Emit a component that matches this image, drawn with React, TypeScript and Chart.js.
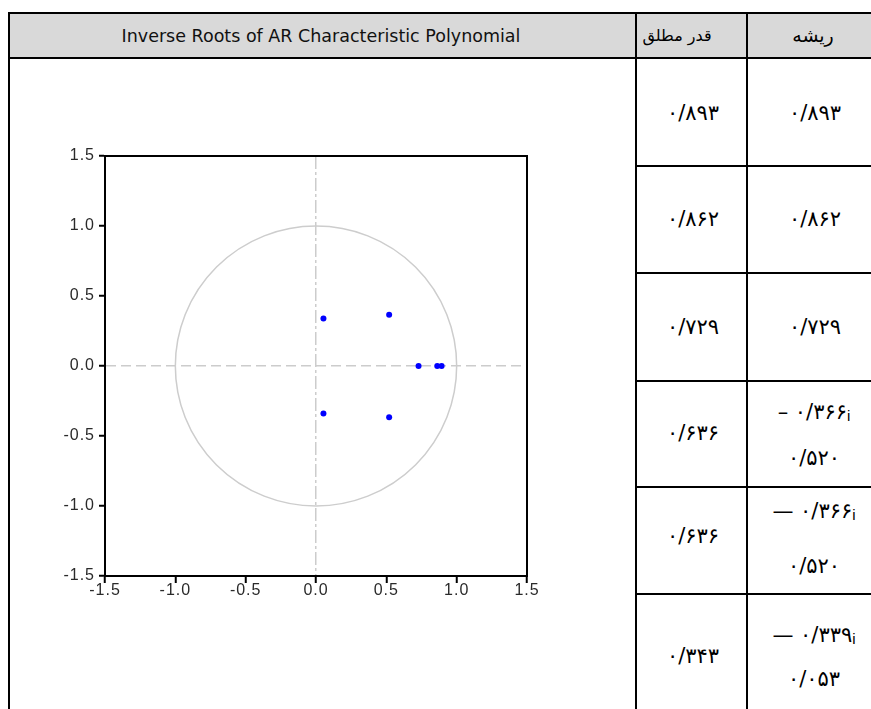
import React, { useEffect, useRef } from "react";
import { Chart, registerables } from "chart.js";

Chart.register(...registerables);

// ---- data ----
const rootReal = [0.893, 0.862, 0.729, 0.52, 0.52, 0.053, 0.053];
const rootImag = [0, 0, 0, 0.366, -0.366, 0.339, -0.339];
const axisTicks = [-1.5, -1.0, -0.5, 0.0, 0.5, 1.0, 1.5];

const headerChart = "Inverse Roots of AR Characteristic Polynomial";
const headerModulus = "قدر مطلق";
const headerRoot = "ریشه";
const modulusLabels = ["۰/۸۹۳", "۰/۸۶۲", "۰/۷۲۹", "۰/۶۳۶", "۰/۶۳۶", "۰/۳۴۳"];
const rootLabels: { sign: string; imag: string; real: string }[] = [
  { sign: "", imag: "", real: "۰/۸۹۳" },
  { sign: "", imag: "", real: "۰/۸۶۲" },
  { sign: "", imag: "", real: "۰/۷۲۹" },
  { sign: "–", imag: "۰/۳۶۶", real: "۰/۵۲۰" },
  { sign: "—", imag: "۰/۳۶۶", real: "۰/۵۲۰" },
  { sign: "—", imag: "۰/۳۳۹", real: "۰/۰۵۳" },
];

// ---- layout (page coordinates) ----
const fullLines = [12, 57];
const rowLines = [165, 272, 380, 486, 593];
const vLines = [8, 635, 746];
const rowCenters = [113, 219, 327, 433, 536, 656];
const twoLineTops = [412, 511, 635];
const twoLineBottoms = [458, 566, 679];

const ARFONT = '"DejaVu Sans", sans-serif';

function RootChart() {
  const ref = useRef<HTMLCanvasElement | null>(null);
  useEffect(() => {
    if (!ref.current) return;
    const setTicks = (s: any) => {
      s.ticks = axisTicks.map((v) => ({ value: v }));
    };
    const unitCircle = {
      id: "unitCircle",
      beforeDraw(chart: any) {
        chart.ctx.letterSpacing = "1px";
      },
      beforeDatasetsDraw(chart: any) {
        const { ctx, scales } = chart;
        const x = scales.x;
        const y = scales.y;
        const cx = x.getPixelForValue(0);
        const cy = y.getPixelForValue(0);
        const rx = x.getPixelForValue(1) - cx;
        const ry = cy - y.getPixelForValue(1);
        ctx.save();
        ctx.strokeStyle = "#cdcdcd";
        ctx.lineWidth = 1.5;
        ctx.beginPath();
        ctx.ellipse(cx, cy, rx, ry, 0, 0, Math.PI * 2);
        ctx.stroke();
        ctx.restore();
      },
      afterDraw(chart: any) {
        const { ctx, chartArea } = chart;
        ctx.save();
        ctx.strokeStyle = "#000";
        ctx.lineWidth = 2;
        ctx.beginPath();
        ctx.moveTo(chartArea.left - 1, chartArea.top);
        ctx.lineTo(chartArea.right, chartArea.top);
        ctx.lineTo(chartArea.right, chartArea.bottom + 1);
        ctx.stroke();
        ctx.restore();
      },
    };
    const tickFont = { family: '"Liberation Sans", Arial, sans-serif', size: 16, lineHeight: 0.9 };
    const zeroColor = (c: any) => (c.tick && c.tick.value === 0 ? "#cccccc" : "rgba(0,0,0,0)");
    const chart = new Chart(ref.current, {
      type: "scatter",
      data: {
        datasets: [
          {
            data: rootReal.map((r, i) => ({ x: r, y: rootImag[i] })),
            backgroundColor: "#0000ff",
            borderColor: "#0000ff",
            borderWidth: 0,
            pointRadius: 3,
            pointHoverRadius: 3,
          },
        ],
      },
      options: {
        responsive: false,
        animation: false,
        devicePixelRatio: 1,
        layout: { padding: { left: 0, top: 16, right: 23, bottom: 4 } },
        plugins: { legend: { display: false }, tooltip: { enabled: false } },
        scales: {
          x: {
            type: "linear",
            min: -1.5,
            max: 1.5,
            afterBuildTicks: setTicks,
            afterFit: (s: any) => {
              s.height = 30;
            },
            grid: {
              color: zeroColor,
              lineWidth: 1.5,
              drawTicks: true,
              tickLength: 7,
              tickColor: "#000",
              tickWidth: 2,
            },
            border: { display: true, color: "#000", width: 2, dash: [13, 3, 3, 3] },
            ticks: {
              color: "#2a2a2a",
              font: tickFont,
              padding: 0,
              maxRotation: 0,
              autoSkip: false,
              callback: (v: any) => Number(v).toFixed(1),
            },
          },
          y: {
            type: "linear",
            min: -1.5,
            max: 1.5,
            afterBuildTicks: setTicks,
            afterFit: (s: any) => {
              s.width = 55;
            },
            grid: {
              color: zeroColor,
              lineWidth: 1.5,
              drawTicks: true,
              tickLength: 6,
              tickColor: "#000",
              tickWidth: 2,
            },
            border: { display: true, color: "#000", width: 2, dash: [10, 5] },
            ticks: {
              color: "#2a2a2a",
              font: tickFont,
              padding: 4,
              autoSkip: false,
              callback: (v: any) => Number(v).toFixed(1),
            },
          },
        },
      },
      plugins: [unitCircle],
    } as any);
    return () => chart.destroy();
  }, []);
  return (
    <canvas
      ref={ref}
      width={500}
      height={470}
      style={{ position: "absolute", left: 50, top: 140, width: 500, height: 470 }}
    />
  );
}

const centerText = (x: number, y: number, content: React.ReactNode, style: React.CSSProperties = {}, key?: any) => (
  <div
    key={key}
    style={{
      position: "absolute",
      left: x,
      top: y,
      transform: "translate(-50%, -50%)",
      whiteSpace: "nowrap",
      ...style,
    }}
  >
    {content}
  </div>
);

export default function App() {
  const arStyle: React.CSSProperties = { fontFamily: ARFONT, fontSize: 21, color: "#000", lineHeight: 1 };
  let twoIdx = -1;
  return (
    <div style={{ position: "fixed", left: 0, top: 0, width: 871, height: 709, background: "#fff", overflow: "hidden" }}>
      {/* header background */}
      <div style={{ position: "absolute", left: 8, top: 12, width: 871, height: 47, background: "#d9d9d9" }} />
      {fullLines.map((y, i) => (
        <div key={"f" + i} style={{ position: "absolute", left: 8, top: y, width: 871, height: 2, background: "#000" }} />
      ))}
      {rowLines.map((y, i) => (
        <div key={"h" + i} style={{ position: "absolute", left: 635, top: y, width: 300, height: 2, background: "#000" }} />
      ))}
      {vLines.map((x, i) => (
        <div key={"v" + i} style={{ position: "absolute", left: x, top: 12, width: 2, height: 720, background: "#000" }} />
      ))}
      {centerText(321, 36, headerChart, { fontFamily: '"DejaVu Sans", sans-serif', fontSize: 17.5, color: "#111" })}
      {centerText(677, 35, headerModulus, { fontFamily: ARFONT, fontSize: 16, direction: "rtl" })}
      {centerText(813, 35, headerRoot, { fontFamily: ARFONT, fontSize: 19, direction: "rtl" })}
      {modulusLabels.map((m, i) => centerText(693, rowCenters[i], m, { ...arStyle, direction: "ltr" }, "m" + i))}
      {rootLabels.map((r, i) => {
        if (!r.imag) return centerText(815, rowCenters[i], r.real, { ...arStyle, direction: "ltr" }, "r" + i);
        twoIdx += 1;
        const t = twoLineTops[twoIdx];
        const b = twoLineBottoms[twoIdx];
        return (
          <React.Fragment key={"r" + i}>
            {centerText(
              814,
              t,
              <span>
                {r.sign} {r.imag}
                <span style={{ fontFamily: '"Liberation Sans", Arial, sans-serif', fontSize: 15, verticalAlign: "-2px" }}>i</span>
              </span>,
              { ...arStyle, direction: "ltr", unicodeBidi: "isolate" }
            )}
            {centerText(814, b, r.real, { ...arStyle, direction: "ltr" })}
          </React.Fragment>
        );
      })}
      <RootChart />
    </div>
  );
}
